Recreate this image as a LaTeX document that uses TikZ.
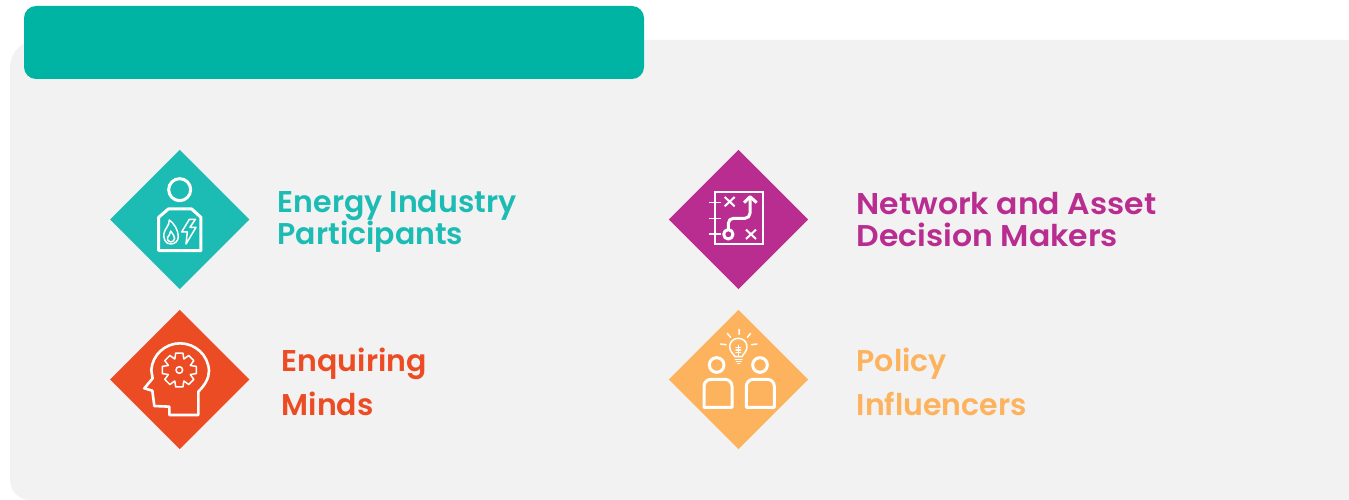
\documentclass[tikz,border=0pt]{standalone}
\usepackage{fontspec}
\setmainfont{Poppins}[BoldFont=Poppins SemiBold]
\newfontfamily\widerfont{Poppins SemiBold}[FakeStretch=1.05]
\usetikzlibrary{shapes.geometric}
\definecolor{panel}{HTML}{F2F2F2}
\definecolor{banner}{HTML}{00B4A4}
\definecolor{cteal}{HTML}{1CBCB4}
\definecolor{cmag}{HTML}{B92D90}
\definecolor{cora}{HTML}{EC4C24}
\definecolor{cyel}{HTML}{FDB35E}
\tikzset{
  gem/.style={diamond,fill=#1,minimum width=139.5pt,minimum height=139.5pt,inner sep=0pt,aspect=1},
  label/.style={anchor=west,align=left,inner sep=0pt,text=#1,font=\bfseries\fontsize{30}{32}\selectfont},
  labelstretch/.style={anchor=west,align=left,inner sep=0pt,text=#1,font=\widerfont\fontsize{30}{32}\selectfont},
  labelwide/.style={anchor=west,align=left,inner sep=0pt,text=#1,font=\bfseries\fontsize{30}{44}\selectfont},
  ico/.style={draw=white,line width=3pt,line join=round},
  icothin/.style={draw=white,line width=1.5pt,line join=round,line cap=round},
}
\begin{document}
\begin{tikzpicture}[x=1pt,y=-1pt]
\useasboundingbox (0,0) rectangle (1349,500);
\fill[white] (0,0) rectangle (1349,500);
\fill[panel] (30,500) .. controls (19,500) and (10,491) .. (10,480) -- (10,68) .. controls (10,52) and (22,40) .. (38,40) -- (1349,40) -- (1349,500) -- cycle;
\node[fill=banner,rounded corners=12pt,minimum width=620pt,minimum height=73pt,inner sep=0pt] (bar) at (334,42.5) {};

\node[gem=cteal] (d1) at (179.8,219.5) {};
\node[gem=cmag] (d2) at (738.5,219.5) {};
\node[gem=cora] (d3) at (179.8,379.5) {};
\node[gem=cyel] (d4) at (738.5,379.5) {};

\node[label=cteal] (t1) at (277.5,221.5) {Energy Industry\\Participants};
\node[labelstretch=cmag] (t2) at (856.5,220) {Network and Asset\\Decision Makers};
\node[labelwide=cora] (t3) at (281.5,382) {Enquiring\\Minds};
\node[labelwide=cyel] (t4) at (856.5,382) {Policy\\Influencers};

% icon 1
\begin{scope}[shift={(100,140)},x=0.3333pt,y=-0.3333pt]
\draw[ico] (239,149) circle (33);
\draw[ico] (176,332) -- (176,232) -- (205,207) -- (275,207) -- (303,232) -- (303,332) -- cycle;
\draw[icothin] (212,312) .. controls (195,312) and (190,295) .. (192,280) .. controls (195,265) and (208,258) .. (208,240) .. controls (222,250) and (235,270) .. (235,290) .. controls (235,303) and (225,312) .. (212,312);
\draw[icothin] (212,306) .. controls (204,306) and (200,298) .. (203,292) .. controls (206,287) and (211,282) .. (212,273) .. controls (218,282) and (224,288) .. (224,295) .. controls (224,301) and (218,306) .. (212,306);
\draw[icothin] (268,238) -- (245,276) -- (262,276) -- (258,312) -- (288,262) -- (270,262) -- (286,238) -- cycle;
\end{scope}

% icon 2
\begin{scope}[shift={(660,140)},x=0.3333pt,y=-0.3333pt]
\draw[white,line width=1.8pt] (165,156) rectangle (309,313);
\foreach \yy in {188,235,282} \draw[white,line width=1.5pt] (148,\yy) -- (184,\yy);
\draw[white,line width=2pt] (194,171) -- (224,199) (224,171) -- (194,199);
\draw[white,line width=2pt] (258,269) -- (288,297) (288,269) -- (258,297);
\draw[ico] (205,283) circle (14);
\draw[ico,rounded corners=5pt] (205,268) -- (205,235) -- (270,235) -- (270,172);
\draw[ico] (252,188) -- (270,170) -- (290,188);
\end{scope}

% icon 3
\begin{scope}[shift={(100,300)},x=0.3333pt,y=-0.3333pt]
\draw[ico,line width=2.6pt] (208,320) -- (208,345) -- (295,345) -- (295,275)
  .. controls (315,255) and (327,235) .. (327,212)
  .. controls (325,165) and (285,130) .. (240,130)
  .. controls (195,130) and (157,165) .. (154,210)
  .. controls (154,220) and (158,228) .. (158,235)
  -- (133,265) -- (157,272) -- (163,318) -- cycle;
\begin{scope}[shift={(238,210)}]
\draw[icothin] (0,0) circle (10);
\draw[icothin] (-22:36) \foreach \a in {0,45,...,315} {
  -- (\a-22:36) -- (\a-12:52) -- (\a+12:52) -- (\a+22:36)
} -- cycle;
\end{scope}
\end{scope}

% icon 4
\begin{scope}[shift={(660,300)},x=0.3333pt,y=-0.3333pt]
\draw[ico] (170,195) circle (22);
\draw[ico,rounded corners=7pt] (132,322) [sharp corners] -- (132,322) [rounded corners=7pt] -- (132,238) -- (216,238) [sharp corners] -- (216,322) -- cycle;
\draw[ico] (300,195) circle (22);
\draw[ico] (259,322) [rounded corners=7pt] -- (259,238) -- (343,238) [sharp corners] -- (343,322) -- cycle;
\draw[icothin] (225,170) .. controls (220,160) and (209,155) .. (209,140) .. controls (209,125) and (221,115) .. (235,115) .. controls (249,115) and (261,125) .. (261,140) .. controls (261,155) and (250,160) .. (246,170) -- cycle;
\draw[icothin] (235,136) -- (235,168) (228,143) -- (242,143) (228,150) -- (242,150) (228,157) -- (242,157);
\draw[icothin] (226,178) -- (246,178) (229,185) -- (243,185) (233,190) -- (239,190);
\draw[icothin] (237,88) -- (237,103) (202,100) -- (212,112) (272,100) -- (262,112) (182,132) -- (198,134) (291,132) -- (275,134);
\end{scope}
\end{tikzpicture}
\end{document}
